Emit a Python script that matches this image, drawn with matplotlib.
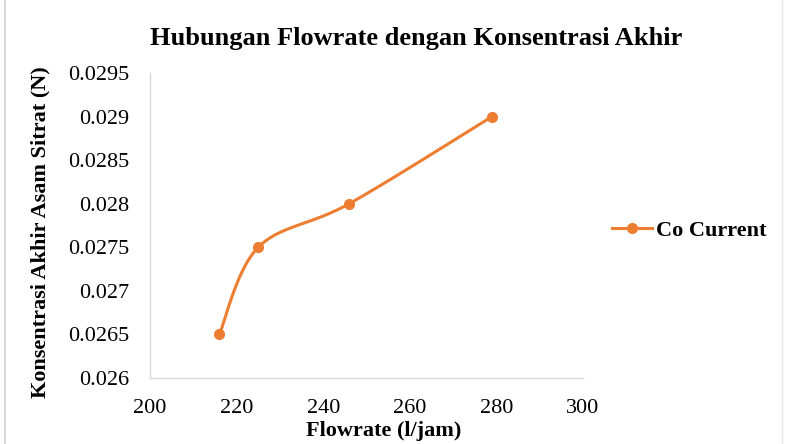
import numpy as np
import matplotlib
matplotlib.use("Agg")
import matplotlib.pyplot as plt
from matplotlib.lines import Line2D

flowrate = [216, 225, 246, 279]
konsentrasi = [0.0265, 0.0275, 0.028, 0.029]
series_name = "Co Current"
xticks = [200, 220, 240, 260, 280, 300]
yticks = [0.026, 0.0265, 0.027, 0.0275, 0.028, 0.0285, 0.029, 0.0295]
ytick_labels = ["0.026", "0.0265", "0.027", "0.0275", "0.028", "0.0285", "0.029", "0.0295"]

plt.rcParams['font.family'] = ['Liberation Serif', 'DejaVu Serif']

def smooth(xs, ys, n=40):
    # Excel-like smoothed line (Catmull-Rom Bezier segments)
    xs = np.asarray(xs, float); ys = np.asarray(ys, float)
    pts = np.column_stack([xs, ys])
    out = []
    for i in range(len(pts) - 1):
        p0 = pts[i - 1] if i > 0 else pts[i]
        p1 = pts[i]; p2 = pts[i + 1]
        p3 = pts[i + 2] if i + 2 < len(pts) else pts[i + 1]
        c1 = p1 + (p2 - p0) / 6.0
        c2 = p2 - (p3 - p1) / 6.0
        t = np.linspace(0, 1, n)[:, None]
        seg = ((1 - t) ** 3) * p1 + 3 * ((1 - t) ** 2) * t * c1 + 3 * (1 - t) * t ** 2 * c2 + t ** 3 * p2
        out.append(seg if i == 0 else seg[1:])
    arr = np.vstack(out)
    return arr[:, 0], arr[:, 1]

color = "#ED7D31"
W, H = 786, 444
fig = plt.figure(figsize=(W/100, H/100), dpi=100)
ax = fig.add_axes([150/W, 1 - 378/H, (583-150)/W, (378-73)/H])

sx, sy = smooth(flowrate, konsentrasi)
ax.plot(sx, sy, color=color, lw=2.2, solid_capstyle='round')
ax.plot(flowrate, konsentrasi, 'o', color=color, ms=7)

ax.set_xlim(200, 300)
ax.set_ylim(0.026, 0.0295)
ax.set_xticks(xticks)
ax.set_xticklabels([str(v) for v in xticks])
ax.set_yticks(yticks)
ax.set_yticklabels(ytick_labels)
ax.tick_params(axis='y', length=0, labelsize=16, colors='black', pad=15)
ax.tick_params(axis='x', length=0, labelsize=16, colors='black', pad=15)
for s in ['top', 'right']:
    ax.spines[s].set_visible(False)
for s in ['left', 'bottom']:
    ax.spines[s].set_color('#d9d9d9')
    ax.spines[s].set_linewidth(1)

ax.set_xlabel("Flowrate (l/jam)", fontsize=16, fontweight='bold')
ax.xaxis.set_label_coords((384-150)/(583-150), -(421-378)/(378-73))
ax.set_ylabel("Konsentrasi Akhir Asam Sitrat (N)", fontsize=16, fontweight='bold')
ax.yaxis.set_label_coords(-(150-50)/(583-150), (378-232)/(378-73))
fig.text(416/W, 1 - 38/H, "Hubungan Flowrate dengan Konsentrasi Akhir", ha='center', va='center',
         fontsize=19, fontweight='bold')

handle = Line2D([], [], color=color, lw=2.2, marker='o', ms=7)
fig.legend([handle], [series_name], loc='center left', bbox_to_anchor=(612/W, 1 - 231/H),
           frameon=False, prop={'size': 16, 'weight': 'bold'}, handlelength=1.8,
           handletextpad=0.2, borderaxespad=0, borderpad=0)

# chart area border (light gray)
fig.add_artist(Line2D([5/W, 5/W], [0, 1], transform=fig.transFigure, color='#d9d9d9', lw=1.5))
fig.add_artist(Line2D([782/W, 782/W], [0, 1], transform=fig.transFigure, color='#e6e6e6', lw=1.0))

fig.savefig("out.png", dpi=100)
